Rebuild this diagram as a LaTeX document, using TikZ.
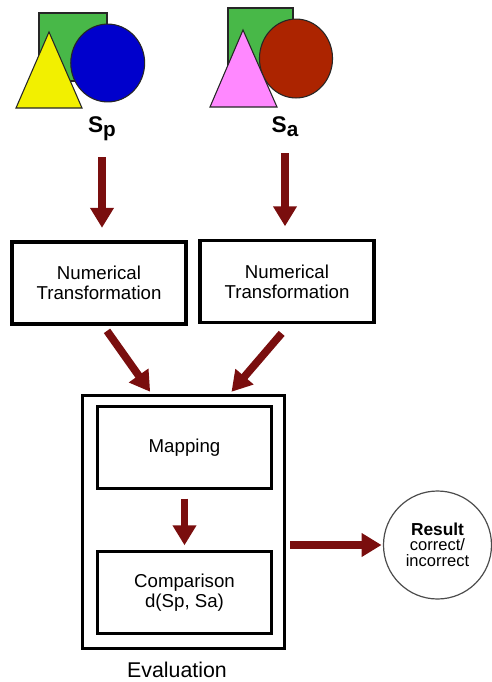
\documentclass[tikz,border=0pt]{standalone}
\usepackage{fontspec}
\setmainfont{Liberation Sans}
\usetikzlibrary{arrows.meta}
\definecolor{arrred}{RGB}{122,14,14}
\definecolor{shgreen}{RGB}{72,184,72}
\definecolor{shyellow}{RGB}{242,240,0}
\definecolor{shblue}{RGB}{0,0,204}
\definecolor{shpink}{RGB}{255,136,255}
\definecolor{shbrown}{RGB}{172,36,0}
\tikzset{
  shapeline/.style={draw=black!85, line width=0.8pt},
  procbox/.style={draw=black, line width=2.3pt, minimum width=130.5pt, minimum height=61.5pt, align=center, inner sep=0pt, font=\fontsize{14}{15}\selectfont},
  evalbox/.style={draw=black, line width=2.3pt, minimum width=152pt, minimum height=190pt, inner sep=0pt},
  resnode/.style={circle, draw=black!70, line width=0.9pt, minimum size=81pt, align=center, inner sep=0pt},
  arr/.style={draw=arrred, line width=5.8pt, -{Triangle[width=17pt,length=15pt]}, arrred},
  slabel/.style={font=\fontsize{17}{17}\selectfont\bfseries, inner sep=0pt}
}
\begin{document}
\begin{tikzpicture}[x=0.75pt,y=-0.75pt]
\useasboundingbox (0,0) rectangle (492,682);
% left shape group
\draw[shapeline, fill=shgreen] (39,13) rectangle (107,81);
\draw[shapeline, fill=shblue] (107.7,63) ellipse [x radius=27.7pt, y radius=29.2pt];
\draw[shapeline, fill=shyellow] (49,32) -- (82,108) -- (16,108) -- cycle;
% right shape group
\draw[shapeline, fill=shgreen] (228,8) rectangle (293,73);
\draw[shapeline, fill=shbrown] (296,58.5) ellipse [x radius=27.4pt, y radius=29.6pt];
\draw[shapeline, fill=shpink] (243,30) -- (277,107) -- (210,107) -- cycle;
% labels
\node[slabel] (sp) at (102,129) {S\raisebox{-0.35ex}{\fontsize{15.5}{15.5}\selectfont p}};
\node[slabel] (sa) at (285,127) {S\raisebox{-0.35ex}{\fontsize{15.5}{15.5}\selectfont a}};
% transformation boxes
\node[procbox] (nt1) at (99,283) {Numerical\\Transformation};
\node[procbox] (nt2) at (287,281.5) {Numerical\\Transformation};
% evaluation
\node[evalbox] (eval) at (183.5,522) {};
\node[procbox] (map) at (184.5,447.5) {Mapping};
\node[procbox] (comp) at (184.5,592.5) {Comparison\\d(Sp, Sa)};
\node[font=\fontsize{16}{16}\selectfont, inner sep=0pt] (evallab) at (177,670) {Evaluation};
% result
\node[resnode] (res) at (437.5,545) {{\fontsize{13}{16}\selectfont\bfseries Result}\\[-1pt]{\fontsize{12.4}{15}\selectfont correct/}\\{\fontsize{12.4}{15}\selectfont incorrect}};
% arrows
\draw[arr, shorten <=12pt, shorten >=9.5pt] (sp.south) -- (sp.south |- nt1.north);
\draw[arr, shorten <=12pt, shorten >=9.5pt] (sa.south) -- (sa.south |- nt2.north);
\draw[arr] ([xshift=6pt,yshift=-4pt]nt1.south) -- ([xshift=-25pt,yshift=1.5pt]eval.north);
\draw[arr] ([xshift=-4pt,yshift=-7pt]nt2.south) -- ([xshift=36pt,yshift=1.5pt]eval.north);
\draw[arr, shorten <=6.5pt, shorten >=3.5pt] (map.south) -- (comp.north);
\draw[arr, shorten <=3pt, shorten >=1pt] (eval.east |- res.west) -- (res.west);
\end{tikzpicture}
\end{document}
